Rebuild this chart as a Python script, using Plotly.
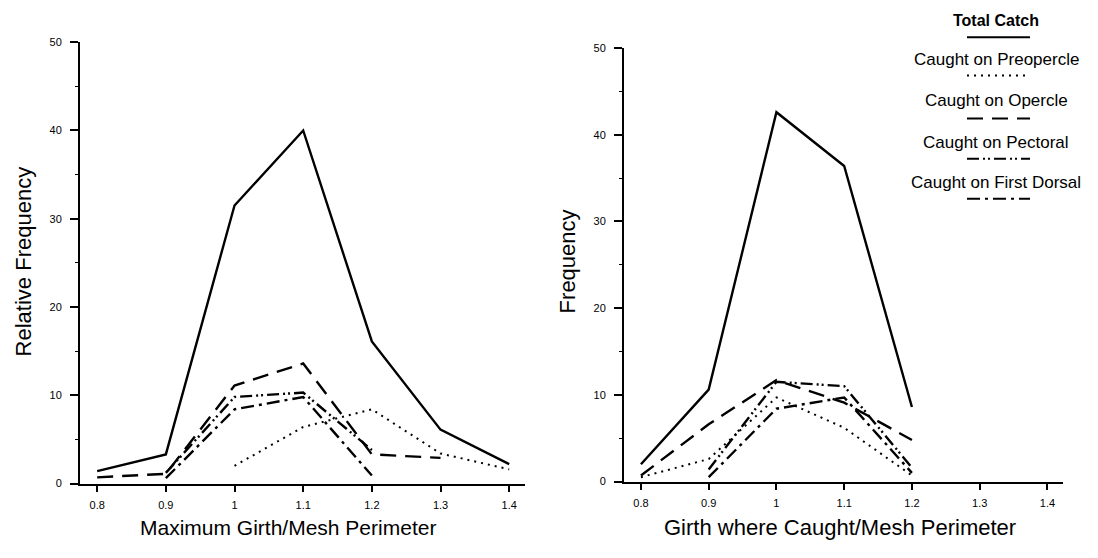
import plotly.graph_objects as go

# ---------------- data ----------------
x_left = [0.8, 0.9, 1.0, 1.1, 1.2, 1.3, 1.4]
left_total = [1.4, 3.3, 31.5, 40.0, 16.1, 6.1, 2.2]
left_preop_x = [1.0, 1.1, 1.2, 1.3, 1.4]
left_preop = [2.0, 6.4, 8.4, 3.4, 1.6]
left_operc_x = [0.8, 0.9, 1.0, 1.1, 1.2, 1.3]
left_operc = [0.7, 1.1, 11.1, 13.6, 3.3, 2.9]
left_pect_x = [0.9, 1.0, 1.1, 1.2]
left_pect = [1.2, 9.8, 10.3, 3.8]
left_dors_x = [0.9, 1.0, 1.1, 1.2]
left_dors = [0.6, 8.4, 9.8, 0.9]

x_right = [0.8, 0.9, 1.0, 1.1, 1.2]
right_total = [2.0, 10.6, 42.6, 36.4, 8.6]
right_preop = [0.5, 2.6, 9.7, 6.2, 0.7]
right_operc = [0.7, 6.6, 11.7, 9.1, 4.8]
right_pect_x = [0.9, 1.0, 1.1, 1.2]
right_pect = [1.4, 11.5, 11.0, 1.6]
right_dors_x = [0.9, 1.0, 1.1, 1.2]
right_dors = [0.5, 8.4, 9.7, 1.0]

x_tickvals = [0.8, 0.9, 1.0, 1.1, 1.2, 1.3, 1.4]
x_ticktext = ["0.8", "0.9", "1", "1.1", "1.2", "1.3", "1.4"]
y_tickvals = [0, 10, 20, 30, 40, 50]
y_ticktext = ["0", "10", "20", "30", "40", "50"]

series_names = ["Total Catch", "Caught on Preopercle", "Caught on Opercle",
                "Caught on Pectoral", "Caught on First Dorsal"]

# ---------------- styles ----------------
FONT = "Liberation Sans, Arial, sans-serif"
dashes = {
    "Total Catch": "solid",
    "Caught on Preopercle": "2px,5px",
    "Caught on Opercle": "16px,9px",
    "Caught on Pectoral": "12px,4px,2px,3px,2px,4px",
    "Caught on First Dorsal": "13px,5px,3px,5px",
}
widths = {
    "Total Catch": 2.4,
    "Caught on Preopercle": 2.0,
    "Caught on Opercle": 2.4,
    "Caught on Pectoral": 2.4,
    "Caught on First Dorsal": 2.4,
}

fig = go.Figure()

left_series = [
    ("Total Catch", x_left, left_total),
    ("Caught on Preopercle", left_preop_x, left_preop),
    ("Caught on Opercle", left_operc_x, left_operc),
    ("Caught on Pectoral", left_pect_x, left_pect),
    ("Caught on First Dorsal", left_dors_x, left_dors),
]
right_series = [
    ("Total Catch", x_right, right_total),
    ("Caught on Preopercle", x_right, right_preop),
    ("Caught on Opercle", x_right, right_operc),
    ("Caught on Pectoral", right_pect_x, right_pect),
    ("Caught on First Dorsal", right_dors_x, right_dors),
]

for name, xs, ys in left_series:
    fig.add_trace(go.Scatter(x=xs, y=ys, mode="lines", name=name, showlegend=False,
                             line=dict(color="black", width=widths[name], dash=dashes[name]),
                             xaxis="x", yaxis="y"))
for name, xs, ys in right_series:
    fig.add_trace(go.Scatter(x=xs, y=ys, mode="lines", name=name, showlegend=False,
                             line=dict(color="black", width=widths[name], dash=dashes[name]),
                             xaxis="x2", yaxis="y2"))

W, H = 1098, 558


def px_x(p):
    return p / W


def px_y(p):
    return 1 - p / H


xaxis_common = dict(
    range=[0.775, 1.423], tickvals=x_tickvals, ticktext=x_ticktext,
    showline=True, linecolor="black", linewidth=2, ticks="outside", ticklen=6,
    tickwidth=1.5, tickcolor="black", showgrid=False, zeroline=False,
    tickfont=dict(family=FONT, size=11, color="black"), ticklabelstandoff=4,
    fixedrange=True,
)
yaxis_common = dict(
    range=[0, 50], tickvals=y_tickvals, ticktext=y_ticktext,
    showline=True, linecolor="black", linewidth=2, ticks="outside", ticklen=8,
    tickwidth=1.5, tickcolor="black", showgrid=False, zeroline=False,
    tickfont=dict(family=FONT, size=11, color="black"), ticklabelstandoff=6,
    minor=dict(ticks="outside", ticklen=3, dtick=5, tickcolor="black", tickwidth=1),
    fixedrange=True,
)

fig.update_layout(
    width=W, height=H,
    margin=dict(l=0, r=0, t=0, b=0),
    paper_bgcolor="white", plot_bgcolor="white",
    showlegend=False,
    xaxis=dict(domain=[px_x(80), px_x(525)], anchor="y", **xaxis_common),
    yaxis=dict(domain=[px_y(488), px_y(37)], anchor="x", **yaxis_common),
    xaxis2=dict(domain=[px_x(624), px_x(1063)], anchor="y2", **xaxis_common),
    yaxis2=dict(domain=[px_y(486), px_y(43)], anchor="x2", **yaxis_common),
)

annotations = [
    dict(text="Maximum Girth/Mesh Perimeter", x=px_x(288), y=px_y(533),
         font=dict(family=FONT, size=21, color="black")),
    dict(text="Girth where Caught/Mesh Perimeter", x=px_x(840), y=px_y(533),
         font=dict(family=FONT, size=22, color="black")),
    dict(text="Relative Frequency", x=px_x(23), y=px_y(261), textangle=-90,
         font=dict(family=FONT, size=22, color="black")),
    dict(text="Frequency", x=px_x(567), y=px_y(261), textangle=-90,
         font=dict(family=FONT, size=22, color="black")),
]

# legend: text above line samples
legend_text_y = [15, 55, 97, 139, 180]
legend_line_y = [32, 71, 115, 156, 197]
shapes = []
for i, name in enumerate(series_names):
    annotations.append(dict(
        text=("<b>%s</b>" % name) if i == 0 else name,
        x=px_x(996), y=px_y(legend_text_y[i]),
        font=dict(family=FONT, size=16 if i == 0 else 17, color="black")))
    shapes.append(dict(type="line", xref="paper", yref="paper",
                       x0=px_x(967), x1=px_x(1030),
                       y0=px_y(legend_line_y[i]), y1=px_y(legend_line_y[i]),
                       line=dict(color="black", width=2, dash=dashes[name])))

for a in annotations:
    a.update(xref="paper", yref="paper", showarrow=False,
             xanchor="center", yanchor="middle")

fig.update_layout(annotations=annotations, shapes=shapes)

fig.write_html("out.html")
